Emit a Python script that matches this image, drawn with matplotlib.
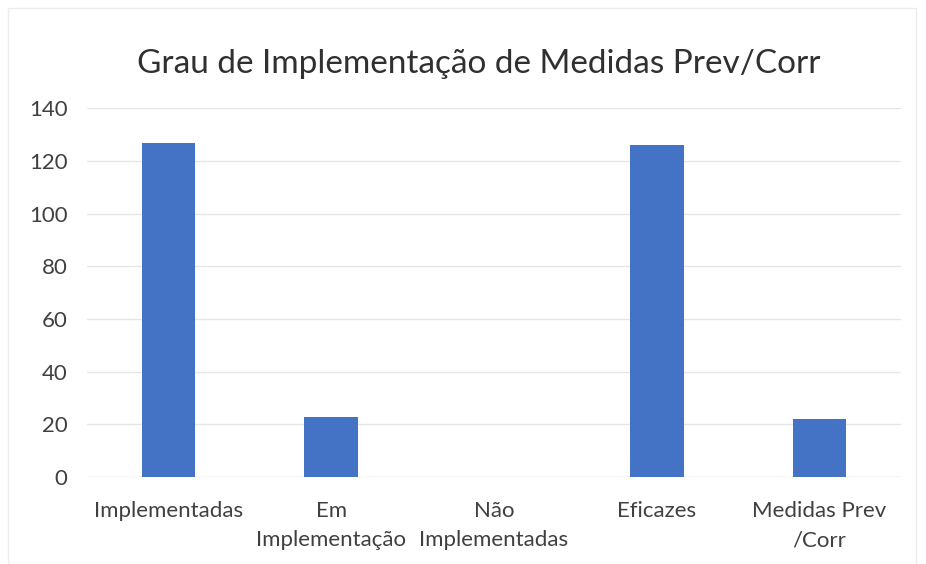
import matplotlib.pyplot as plt
from matplotlib.patches import Rectangle

# --- chart data -------------------------------------------------------------
categories = ["Implementadas", "Em\nImplementação", "Não\nImplementadas",
              "Eficazes", "Medidas Prev\n/Corr"]
values = [127, 23, 0, 126, 22]
y_ticks = [0, 20, 40, 60, 80, 100, 120, 140]

plt.rcParams["font.family"] = ["Lato", "DejaVu Sans"]

fig = plt.figure(figsize=(9.26, 5.64), dpi=100)
ax = fig.add_axes([0.094, 0.154, 0.879, 0.654])

x = range(len(categories))
ax.bar(x, values, width=0.33, color="#4472C4", zorder=3)

ax.set_xlim(-0.5, len(categories) - 0.5)
ax.set_ylim(0, 140)
ax.set_yticks(y_ticks)
ax.set_xticks(list(x))
ax.set_xticklabels(categories, fontsize=16, color="#404040", linespacing=1.6)
ax.tick_params(axis="y", labelsize=16, labelcolor="#404040", length=0, pad=14)
ax.tick_params(axis="x", length=0, pad=17)

ax.grid(axis="y", color="#e6e6e6", linewidth=1, zorder=0)
for side in ["top", "right", "left", "bottom"]:
    ax.spines[side].set_visible(False)
ax.axhline(0, color="#e0e0e0", linewidth=1, zorder=1)

# faint chart-area border
fig.patches.append(Rectangle((0.009, 0.0), 0.98, 0.985, transform=fig.transFigure,
                             fill=False, edgecolor="#ececec", linewidth=1))

fig.text(0.517, 0.887, "Grau de Implementação de Medidas Prev/Corr",
         ha="center", va="center", fontsize=24, color="#303030")

fig.savefig("out.png", dpi=100, facecolor="white")
